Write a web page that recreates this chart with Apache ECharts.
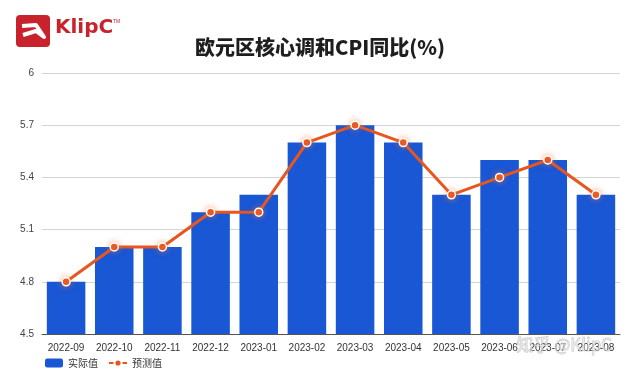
<!DOCTYPE html>
<html><head><meta charset="utf-8">
<script src="https://cdn.jsdelivr.net/npm/echarts@6/dist/echarts.min.js"></script>
<style>html,body{margin:0;padding:0;background:#fff}#c{width:640px;height:373px}</style>
</head><body><div id="c"></div>
<script>
var categories = ['2022-09','2022-10','2022-11','2022-12','2023-01','2023-02','2023-03','2023-04','2023-05','2023-06','2023-07','2023-08'];
var actual = [4.8, 5.0, 5.0, 5.2, 5.3, 5.6, 5.7, 5.6, 5.3, 5.5, 5.5, 5.3];
var forecast = [4.8, 5.0, 5.0, 5.2, 5.2, 5.6, 5.7, 5.6, 5.3, 5.4, 5.5, 5.3];
var yTicks = [4.5, 4.8, 5.1, 5.4, 5.7, 6];

var chart = echarts.init(document.getElementById('c'), null, {renderer:'canvas'});
var font = '"Noto Sans CJK SC", "Noto Sans", sans-serif';
chart.setOption({
  animation: false,
  title: {
    text: '欧元区核心调和CPI同比(%)', left: 'center', top: 32,
    textStyle: {fontSize: 20, fontWeight: 900, color: '#1e1e1e', fontFamily: font}
  },
  graphic: [
    {type:'rect', left:16, top:15, shape:{width:34, height:32, r:4}, style:{fill:'#c8232c'}},
    {type:'polyline', shape:{points:[[22,26],[36,25],[44,37],[36,31],[23,35]]}, style:{stroke:'#fff', lineWidth:4, fill:null, lineJoin:'round'}},
    {type:'text', left:55, top:18, style:{text:'KlipC', fontSize:20, fontWeight:'bold', fill:'#c8232c', fontFamily:'"DejaVu Sans", sans-serif'}},
    {type:'text', left:113, top:19, style:{text:'TM', fontSize:5, fill:'#c8232c'}},
    {type:'text', left:516, top:336, z:100, style:{text:'知乎 @KlipC', fontSize:17, fill:'rgba(235,235,235,0.6)', stroke:'rgba(150,150,150,0.55)', lineWidth:0.8, fontFamily: font}}
  ],
  legend: {
    left: 40, top: 353, itemGap: 10, itemWidth: 18, itemHeight: 9,
    textStyle: {fontSize: 10, color: '#333', fontFamily: font},
    data: [
      {name:'实际值', icon:'roundRect'},
      {name:'预测值'}
    ]
  },
  grid: {left: 42, right: 20, top: 73, bottom: 39},
  xAxis: {
    type: 'category', data: categories,
    axisLine: {lineStyle: {color: '#555'}},
    axisTick: {show: false},
    axisLabel: {fontSize: 10, color: '#333', margin: 9, fontFamily: '"Liberation Sans", sans-serif'}
  },
  yAxis: {
    type: 'value', min: 4.5, max: 6, interval: 0.3,
    axisLine: {show: false}, axisTick: {show: false},
    splitLine: {lineStyle: {color: '#d4d4d4'}},
    axisLabel: {fontSize: 10, color: '#444', margin: 8, fontFamily: '"Liberation Sans", sans-serif',
      formatter: function(v){ return String(Math.round(v*10)/10); }}
  },
  series: [
    {name:'实际值', type:'bar', data: actual, barCategoryGap:'20%',
     itemStyle:{color:'#1957d5'}},
    {name:'预测值', type:'line', data: forecast, symbol:'circle', symbolSize:8,
     lineStyle:{color:'#e8561f', width:3},
     itemStyle:{color:'#e8561f', borderColor:'#fff', borderWidth:1.5, shadowColor:'rgba(240,120,60,0.6)', shadowBlur:6}}
  ]
});
</script></body></html>
